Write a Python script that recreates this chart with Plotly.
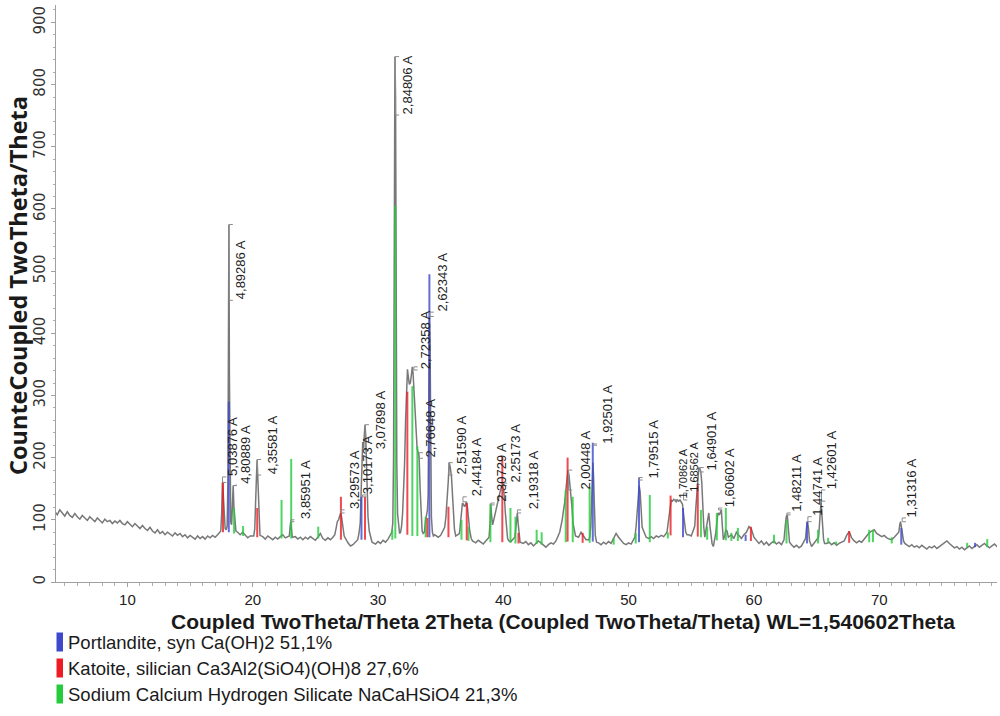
import numpy as np
import plotly.graph_objects as go

WAVELENGTH = 1.540602  # Cu K-alpha1, Angstrom

# ---- measured scan: regular background sampling ----
scan_start = 4.2
scan_step = 0.2
scan_counts = [
    114, 108, 116, 110, 106, 113, 107, 104, 110, 105, 101, 107, 103, 99, 105, 101, 97, 103, 99, 95, 101, 97, 99, 94, 98,
    95, 99, 94, 92, 97, 93, 89, 94, 90, 86, 91, 86, 83, 88, 82, 79, 84, 78, 81, 76, 80, 77, 74, 79, 75,
    78, 73, 76, 71, 75, 72, 69, 74, 70, 73, 69, 74, 71, 75, 72, 76, 78, 82, 84, 88, 86, 84, 82, 80, 76,
    80, 75, 71, 74, 72, 76, 74, 70, 73, 69, 74, 71, 68, 72, 69, 73, 76, 71, 68, 80, 70, 73, 69, 72, 68,
    72, 69, 73, 70, 67, 72, 78, 70, 67, 71, 68, 72, 80, 100, 110, 85, 70, 63, 58, 60, 64, 70, 100, 220, 240,
    105, 72, 63, 61, 65, 62, 67, 64, 69, 74, 100, 700, 100, 80, 120, 260, 330, 330, 335, 250, 208, 120, 78, 100, 140,
    200, 74, 76, 72, 75, 80, 110, 180, 175, 100, 74, 74, 95, 125, 122, 110, 75, 66, 63, 67, 64, 61, 66, 70, 120,
    100, 112, 130, 150, 150, 100, 68, 65, 70, 90, 90, 66, 62, 65, 60, 63, 58, 62, 66, 63, 59, 56, 60, 63, 61,
    66, 72, 89, 115, 150, 175, 148, 90, 74, 72, 80, 74, 68, 68, 150, 170, 66, 63, 60, 64, 61, 65, 62, 70, 78,
    72, 66, 62, 60, 63, 61, 66, 90, 150, 110, 78, 72, 70, 73, 70, 74, 72, 75, 73, 78, 112, 132, 133, 129, 130,
    128, 100, 78, 76, 74, 80, 140, 184, 170, 88, 90, 111, 68, 62, 90, 110, 116, 70, 82, 72, 76, 70, 80, 74, 70,
    76, 80, 89, 85, 72, 66, 62, 66, 60, 64, 59, 63, 66, 61, 64, 60, 70, 105, 65, 60, 56, 59, 55, 58, 62,
    88, 70, 57, 62, 67, 90, 110, 65, 62, 64, 60, 63, 59, 62, 64, 66, 75, 81, 71, 66, 63, 66, 64, 69, 74,
    79, 82, 84, 78, 76, 73, 75, 71, 69, 68, 72, 76, 90, 85, 64, 60, 57, 60, 56, 58, 55, 59, 56, 53, 57,
    55, 58, 54, 57, 60, 63, 66, 62, 59, 55, 57, 53, 56, 52, 55, 58, 54, 57, 60, 56, 59, 62, 58, 55, 58,
    61, 57, 60,
]

# ---- reflection profiles recorded at finer steps ----
peak_theta = [
    17.45, 17.52, 17.58, 17.64, 17.72, 17.80, 17.88, 17.96, 18.02, 18.07, 18.10, 18.14, 18.19, 18.25, 18.32, 18.38, 18.44, 18.50, 18.58, 18.66,
    20.08, 20.16, 20.24, 20.30, 20.35, 20.40, 20.46, 20.52, 20.58,
    22.92, 22.98, 23.04, 23.10, 23.16,
    26.55, 26.65, 26.75, 26.85, 26.95, 27.02, 27.10, 27.20, 27.30,
    28.38, 28.48, 28.58, 28.66, 28.72, 28.78, 28.84, 28.90, 28.96, 29.02, 29.10, 29.20, 29.30, 29.42, 29.52,
    31.10, 31.18, 31.24, 31.30, 31.35, 31.40, 31.45, 31.50, 31.56, 31.64, 31.72, 31.80, 31.88, 31.96, 32.04, 32.12, 32.20, 32.28,
    32.35, 32.42, 32.50, 32.58, 32.66, 32.74, 32.80, 32.88, 32.96, 33.04, 33.12, 33.20, 33.28, 33.36, 33.44, 33.52, 33.60, 33.70,
    33.80, 33.88, 33.94, 34.00, 34.05, 34.10, 34.15, 34.20, 34.26, 34.34, 34.42, 34.52,
    35.32, 35.42, 35.50, 35.60, 35.68, 35.76, 35.86, 35.94, 36.02, 36.10, 36.20,
    36.50, 36.58, 36.66, 36.74, 36.82, 36.90, 36.98, 37.06, 37.14, 37.22, 37.32, 37.44, 37.54,
    38.86, 38.94, 39.00, 39.06, 39.14, 39.24, 39.34, 39.44, 39.54, 39.64, 39.74, 39.84, 39.92, 40.00, 40.08, 40.16, 40.24, 40.34, 40.44,
    40.92, 41.00, 41.07, 41.12, 41.18, 41.26, 41.34,
    44.50, 44.60, 44.70, 44.80, 44.90, 45.00, 45.08, 45.16, 45.24, 45.32, 45.40, 45.48, 45.56, 45.66, 45.76,
    46.82, 46.90, 46.98, 47.04, 47.10, 47.15, 47.20, 47.26, 47.34, 47.44,
    50.50, 50.60, 50.68, 50.76, 50.84, 50.92, 51.00, 51.08,
    53.06, 53.14, 53.22, 53.30, 53.40, 53.50, 53.60, 53.70, 53.80, 53.90, 54.00, 54.10, 54.20, 54.30, 54.38, 54.46, 54.56, 54.66,
    55.28, 55.36, 55.44, 55.52, 55.60, 55.68, 55.76, 55.84, 55.92, 56.00, 56.08, 56.16, 56.24, 56.32, 56.40, 56.48, 56.56, 56.66,
    56.76, 56.86, 56.96, 57.06, 57.14, 57.24, 57.32, 57.40, 57.48, 57.56, 57.66, 57.76, 57.86, 57.96,
    62.40, 62.50, 62.58, 62.66, 62.74, 62.84,
    64.12, 64.20, 64.28, 64.36, 64.44,
    65.16, 65.24, 65.30, 65.36, 65.42, 65.48, 65.56, 65.64,
    71.56, 71.64, 71.70, 71.76, 71.84, 71.94, 72.04,
]
peak_counts = [
    82, 110, 160, 145, 100, 86, 84, 90, 160, 560, 575, 330, 130, 95, 92, 120, 155, 120, 90, 82,
    74, 85, 120, 170, 197, 165, 115, 85, 75,
    74, 88, 97, 84, 72,
    76, 86, 97, 100, 108, 111, 103, 85, 74,
    68, 78, 95, 150, 205, 225, 215, 240, 253, 235, 170, 105, 82, 70, 64,
    80, 95, 200, 560, 845, 780, 420, 190, 110, 85, 78, 80, 90, 110, 140, 190, 260, 320,
    342, 330, 318, 320, 338, 346, 335, 300, 265, 235, 215, 208, 200, 150, 100, 82, 78, 80,
    100, 113, 115, 140, 250, 427, 390, 200, 105, 80, 74, 76,
    88, 105, 125, 160, 192, 185, 170, 140, 100, 85, 74,
    78, 95, 115, 127, 125, 121, 124, 129, 120, 100, 82, 70, 66,
    72, 95, 124, 108, 92, 100, 110, 116, 125, 135, 145, 152, 155, 150, 138, 112, 84, 70, 66,
    72, 85, 100, 111, 95, 72, 64,
    80, 89, 100, 115, 128, 150, 170, 180, 172, 155, 148, 120, 95, 82, 74,
    68, 72, 90, 130, 180, 192, 170, 115, 75, 64,
    72, 90, 110, 135, 155, 145, 110, 88,
    80, 92, 112, 125, 132, 130, 133, 131, 129, 132, 130, 132, 128, 125, 110, 92, 80, 76,
    90, 118, 143, 170, 184, 182, 178, 160, 116, 88, 72, 82, 92, 98, 111, 92, 75, 62,
    57, 66, 79, 100, 111, 108, 113, 116, 90, 68, 74, 84, 82, 72,
    68, 90, 105, 108, 80, 64,
    70, 88, 97, 85, 66,
    72, 95, 125, 130, 110, 89, 68, 62,
    80, 92, 97, 90, 78, 66, 62,
]

# ---- reference patterns (stick positions, stick tops, stick bases) ----
portlandite_theta = [18.09, 28.68, 34.10, 47.14, 50.83, 54.34, 59.34, 64.24, 71.76, 77.65]
portlandite_top = [290, 137, 495, 224, 168, 119, 76, 97, 87, 63]
portlandite_base = [80, 68, 72, 65, 64, 72, 66, 62, 60, 56]

katoite_theta = [17.63, 20.36, 27.04, 28.96, 32.34, 33.94, 35.62, 37.08, 39.92, 41.21, 45.13, 46.33, 53.35, 55.52, 59.76, 67.60]
katoite_top = [161, 119, 137, 137, 306, 103, 121, 127, 202, 79, 200, 79, 139, 156, 89, 82]
katoite_base = [80, 72, 68, 68, 76, 72, 72, 67, 64, 62, 65, 63, 75, 73, 66, 63]

nacahsio4_theta = [18.51, 19.23, 22.30, 23.07, 25.23, 31.14, 31.38, 32.74, 33.14, 33.80, 36.66, 37.22, 38.97, 40.57,
                   40.97, 42.66, 43.06, 44.98, 45.54, 46.89, 48.81, 50.57, 51.69, 53.13, 55.77, 56.27, 57.04, 57.76,
                   58.20, 58.72, 61.60, 62.60, 65.12, 65.92, 66.56, 69.20, 69.50, 71.00, 77.02, 78.62]
nacahsio4_top = [119, 90, 132, 198, 89, 84, 605, 315, 218, 105, 100, 89, 126, 119,
                 105, 84, 80, 148, 137, 153, 71, 79, 140, 80, 116, 89, 111, 119,
                 79, 87, 76, 100, 84, 71, 65, 84, 84, 72, 63, 69]
nacahsio4_base = [78, 74, 70, 70, 70, 68, 70, 74, 74, 72, 68, 66, 64, 63,
                  62, 61, 60, 64, 64, 63, 60, 62, 64, 70, 72, 68, 67, 67,
                  66, 66, 62, 62, 62, 62, 60, 64, 64, 62, 56, 56]

# ---- d-spacing labels ----
label_text = ["5,03876 A", "4,89286 A", "4,80889 A", "4,35581 A", "3,85951 A", "3,29573 A", "3,10173 A",
              "3,07898 A", "2,84806 A", "2,76648 A", "2,72358 A", "2,62343 A", "2,51590 A", "2,44184 A",
              "2,30729 A", "2,25173 A", "2,19318 A", "2,00448 A", "1,92501 A", "1,79515 A", "1,70862 A",
              "1,68562 A", "1,64901 A", "1,60602 A", "1,48211 A", "1,44741 A", "1,42601 A", "1,31316 A"]
label_shift = [0, 0, 0, 0, 0, 0, 0, 0, 0, 0.95, 0, 0, 0, 0,
               0, 0, 0, 0, 0, 0, 0, 0, 0, -0.15, 0, 0, 0, 0]
label_gap = [0.12, 0.22, 0.30, 0.55, 0.52, 0.43, -0.26, 0.55, 0.32, 0.25, 0.28, 0.35, 0.36, 0.36,
             0.15, 0.32, 0.56, 0.64, 0.50, 0.45, 0.15, 0.25, 0.20, 0.22, 0.12, 0.10, 0.15, 0.10]
label_top = [160, 575, 155, 197, 97, 111, 137, 253, 845, 208, 346, 427, 192, 129,
             124, 155, 111, 180, 222, 168, 132, 132, 184, 116, 108, 97, 130, 97]
label_bottom = [169, 453, 156, 172, 100, 116, 140, 212, 751, 199, 341, 434, 172, 137,
                127, 159, 116, 148, 220, 164, 132, 143, 177, 119, 111, 105, 148, 103]
label_size = [13, 13, 13, 13, 13, 13, 13, 13, 13, 13, 13, 13, 13, 13,
              13, 13, 13, 13, 13, 13, 11, 11, 13, 13, 13, 13, 13, 13]

legend_text = ["Portlandite, syn Ca(OH)2 51,1%",
               "Katoite, silician Ca3Al2(SiO4)(OH)8 27,6%",
               "Sodium Calcium Hydrogen Silicate NaCaHSiO4 21,3%"]
phase_colors = ["#3f48cc", "#ed1c24", "#24cc3c"]


def two_theta(d):
    return float(np.degrees(2 * np.arcsin(WAVELENGTH / (2 * d))))


# merge background sampling with the finer peak profiles
bg_theta = scan_start + scan_step * np.arange(len(scan_counts))
pk_theta = np.array(peak_theta)
keep = np.array([np.min(np.abs(pk_theta - t)) > 0.14 for t in bg_theta])
all_theta = np.concatenate([bg_theta[keep], pk_theta])
all_counts = np.concatenate([np.array(scan_counts)[keep], np.array(peak_counts)])
order = np.argsort(all_theta)
all_theta = all_theta[order]
all_counts = all_counts[order]

fig = go.Figure()


def sticks(theta, top, base, color):
    xs, ys = [], []
    for t, hi, lo in zip(theta, top, base):
        xs += [t, t, None]
        ys += [lo, hi, None]
    return go.Scatter(x=xs, y=ys, mode="lines", line=dict(color=color, width=2),
                      opacity=0.8, hoverinfo="skip")


fig.add_trace(go.Scatter(x=all_theta, y=all_counts, mode="lines",
                         line=dict(color="rgba(105,105,105,0.9)", width=1.5),
                         hoverinfo="skip"))
fig.add_trace(sticks(nacahsio4_theta, nacahsio4_top, nacahsio4_base, phase_colors[2]))
fig.add_trace(sticks(katoite_theta, katoite_top, katoite_base, phase_colors[1]))
fig.add_trace(sticks(portlandite_theta, portlandite_top, portlandite_base, phase_colors[0]))

# label brackets
bx, by = [], []
tick = 0.3
for txt, sh, top, bot in zip(label_text, label_shift, label_top, label_bottom):
    t = two_theta(float(txt.split()[0].replace(",", "."))) + sh
    bx += [t + tick, t, t, t + tick, None]
    by += [top, top, bot, bot, None]
fig.add_trace(go.Scatter(x=bx, y=by, mode="lines", line=dict(color="#8c8c8c", width=1),
                         hoverinfo="skip"))

annotations = []
for txt, sh, gap, bot, fs in zip(label_text, label_shift, label_gap, label_bottom, label_size):
    t = two_theta(float(txt.split()[0].replace(",", "."))) + sh
    annotations.append(dict(x=t + gap, y=bot, xref="x", yref="y", text=txt, showarrow=False,
                            textangle=-90, xanchor="left", yanchor="bottom", borderpad=0,
                            font=dict(family="Liberation Sans, Arial, sans-serif", size=fs, color="#1e1e1e")))

# plot area in pixels: x 56..997, y 5..582
W_PLOT, H_PLOT, LEFT, BOTTOM = 941.0, 577.0, 56.0, 582.0


def px(xp):
    return (xp - LEFT) / W_PLOT


def py(yp):
    return (BOTTOM - yp) / H_PLOT


annotations.append(dict(x=px(18), y=py(286), xref="paper", yref="paper", showarrow=False,
                        text="<b>CounteCoupled TwoTheta/Theta</b>", textangle=-90,
                        xanchor="center", yanchor="middle",
                        font=dict(family="Open Sans, sans-serif", size=23.5, color="#1a1a1a")))
annotations.append(dict(x=px(563), y=py(621), xref="paper", yref="paper", showarrow=False,
                        text="<b>Coupled TwoTheta/Theta 2Theta (Coupled TwoTheta/Theta) WL=1,540602Theta</b>",
                        xanchor="center", yanchor="middle", borderpad=0,
                        font=dict(family="Liberation Sans Narrow, Arial Narrow, sans-serif", size=21, color="#1a1a1a")))

shapes = []
for i, (txt, col) in enumerate(zip(legend_text, phase_colors)):
    yc = 642 + 26 * i
    shapes.append(dict(type="rect", xref="paper", yref="paper", x0=px(56.5), x1=px(63),
                       y0=py(yc + 9.5), y1=py(yc - 9.5), fillcolor=col, line=dict(width=0)))
    annotations.append(dict(x=px(67), y=py(yc), xref="paper", yref="paper", showarrow=False,
                            text=txt, xanchor="left", yanchor="middle", borderpad=0,
                            font=dict(family="Liberation Sans Narrow, Arial Narrow, sans-serif", size=18.5,
                                      color="#1a1a1a")))

fig.update_layout(
    width=1000, height=716,
    margin=dict(l=56, r=3, t=5, b=134),
    paper_bgcolor="white", plot_bgcolor="white",
    showlegend=False,
    annotations=annotations,
    shapes=shapes,
    xaxis=dict(range=[4.3, 79.4], showgrid=False, zeroline=False, showline=True,
               linecolor="#a0a0a0", linewidth=1, ticks="outside", ticklen=4, tickcolor="#a0a0a0",
               tick0=0, dtick=10,
               tickfont=dict(family="Liberation Sans Narrow, Arial Narrow, sans-serif", size=15, color="#222"),
               minor=dict(ticks="outside", ticklen=3, tickcolor="#b0b0b0", dtick=1, tick0=0)),
    yaxis=dict(range=[0, 928], showgrid=False, zeroline=False, showline=True,
               linecolor="#a0a0a0", linewidth=1, ticks="outside", ticklen=4, tickcolor="#a0a0a0",
               tick0=0, dtick=100, tickangle=-90,
               tickfont=dict(family="DejaVu Sans, sans-serif", size=15, color="#333"),
               minor=dict(ticks="outside", ticklen=2, tickcolor="#b0b0b0", dtick=20, tick0=0)),
)

fig.write_html("out.html")
